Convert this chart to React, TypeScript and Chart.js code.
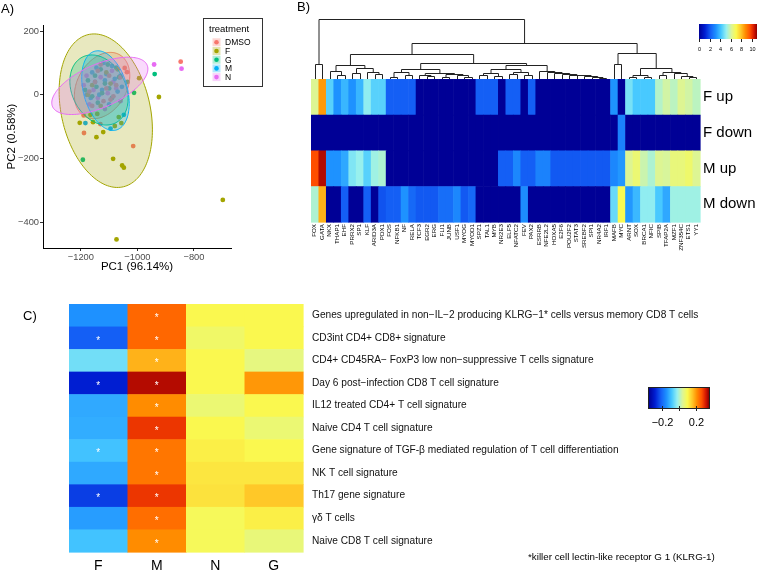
import React, { useEffect, useRef } from "react";
import { Chart, registerables } from "chart.js";
Chart.register(...registerables);

const SANS = '"Liberation Sans", Arial, Helvetica, sans-serif';

// ---------------- Panel A: PCA scatter ----------------
const groupNames = ["DMSO", "F", "G", "M", "N"];
const groupColors = ["#F8766D", "#A3A500", "#00BF7D", "#00B0F6", "#E76BF3"];
const dmsoX = [-1190, -1189, -1131, -1037, -1045, -1015, -847, -1150, -1100, -1170, -1120, -1075, -1140, -1085, -1160, -1110, -1060, -1130, -1095];
const dmsoY = [-65, -120, -92, 71, 84, -161, 104, 40, 60, 10, -20, 30, 75, -5, -35, 20, 55, 95, -15];
const fX = [-994, -924, -698, -1074, -1086, -1054, -1048, -1057, -1066, -1080, -1121, -1157, -1142, -1166, -1204, -1145, -1110, -1160, -1095, -1130, -1175, -1070];
const fY = [52, -7, -330, -454, -201, -222, -229, -89, -70, -98, -117, -86, -60, -63, -88, -133, 70, 30, 35, -35, 0, 80];
const gX = [-939, -1012, -1193, -1035, -1130, -1150, -1100, -1175, -1090, -1125, -1140, -1105, -1065, -1160, -1185, -1115, -1075, -1145];
const gY = [65, 6, -204, 40, 80, 60, 20, 45, -10, 5, -25, 95, 55, -5, 15, 35, 85, 25];
const mX = [-1048, -1095, -1184, -1160, -1115, -1080, -1135, -1100, -1165, -1070, -1120, -1145, -1055, -1110, -1090, -1150, -1125, -1180, -1060];
const mY = [-63, -106, -89, 70, 45, 50, 0, -30, -10, 10, 100, 85, 25, 65, 90, 40, 15, 0, 60];
const nX = [-941, -844, -1180, -1090, -1155, -1060, -1115, -1190, -1085, -1130, -1170, -1105, -1140, -1075];
const nY = [95, 82, 60, 75, 15, -20, -45, 30, 40, 55, -30, 5, -10, 20];
const groupXs = [dmsoX, fX, gX, mX, nX];
const groupYs = [dmsoY, fY, gY, mY, nY];
// 95% ellipse summaries per group: centre, half-ranges, correlation
const ellipseCx = [-1125, -1112, -1136, -1113, -1133];
const ellipseCy = [29, -50, 15, 13, 28];
const ellipseA = [98, 165, 103, 84, 170];
const ellipseB = [104, 241, 110, 125, 90];
const ellipseR = [0.3, -0.25, -0.25, -0.32, 0.59];
const xTicksA = [-1200, -1000, -800];
const yTicksA = [-400, -200, 0, 200];

// ---------------- Panel B: TF heatmap ----------------
const tfNames = ["FOX","GATA","NKX","THAP1","EHF","PRRX2","SP1","KLF","ARID3A","PDX1","FOS","NFKB1","NF","RELA","TCF3","EGR2","ERG","FLI1","JUNB","USF1","MYOG","MYOD1","SPZ1","TAL1","MYB","NR2E3","ELF5","NFATC2","FEV","PAX2","ESRRB","NFE2L2","HOXA5","E2F6","POU2F2","STAT3","SREBF2","SPI1","NR4A2","IRF1","MAFB","MYC","ARNT","SOX","BRCA1","NFIC","SPIB","TFAP2A","MZF1","ZNF354C","ETS1","YY1"];
const bRows = ["F up", "F down", "M up", "M down"];
const fUp = [6.2, 8.6, 4.4, 3.2, 3.85, 3.2, 3.85, 5.1, 4.4, 4.4, 2.2, 2.2, 2.2, 2.2, 0, 0, 0, 0, 0, 0, 0, 0, 2.2, 2.2, 2.2, 0, 2.2, 2.2, 0, 2.2, 0, 0, 0, 0, 0, 0, 0, 0, 0, 0, 3.2, 0, 4.8, 4.2, 4.2, 4.2, 5.6, 6.0, 5.7, 6.2, 6.0, 5.7];
const fDown = [0, 0, 0, 0, 0, 0, 0, 0, 0, 0, 0, 0, 0, 0, 0, 0, 0, 0, 0, 0, 0, 0, 0, 0, 0, 0, 0, 0, 0, 0, 0, 0, 0, 0, 0, 0, 0, 0, 0, 0, 0, 2.9, 0, 0, 0, 0, 0, 0, 0, 0, 0, 0];
const mUp = [9.7, 10.7, 3.2, 3.2, 3.6, 4.9, 5.2, 4.4, 5.3, 5.5, 0, 0, 0, 0, 0, 0, 0, 0, 0, 0, 0, 0, 0, 0, 0, 2.2, 2.2, 3.0, 2.2, 2.2, 2.9, 2.9, 2.1, 2.1, 2.1, 2.1, 2.1, 2.1, 2.1, 2.1, 3.0, 3.3, 6.2, 6.6, 5.9, 5.5, 6.2, 6.1, 6.5, 6.5, 6.7, 6.2];
const mDown = [5.5, 8.25, 0, 0, 2.2, 0, 0, 2.2, 0, 2.0, 2.2, 2.2, 3.2, 2.4, 2.1, 2.1, 2.1, 2.5, 2.5, 3.0, 2.1, 2.4, 0, 0, 0, 0, 0, 0, 3.1, 0, 0, 0, 0, 0, 0, 0, 0, 0, 0, 0, 4.6, 7.0, 3.3, 3.9, 5.1, 5.1, 4.2, 3.6, 5.3, 5.3, 5.3, 5.3];
const bMax = 11;
const bScaleTicks = [0, 2, 4, 6, 8, 10];
// column dendrogram: [height, left, right], leaves are column indices
const dendrogram: any = [1.0,
  [0.25, 0, 1],
  [0.6,
    [0.417,
      [0.233, [0.13, 2, [0.07, 3, 4]], [0.18, [0.1, 5, 6], [0.12, 7, [0.08, 8, 9]]]],
      [0.275,
        [0.167,
          [0.12, [0.04, 10, 11], [0.06, 12, 13]],
          [0.1, [0.07, 14, [0.05, 15, 16]], [0.08, [0.04, 17, 18], [0.06, 19, [0.03, 20, 21]]]]],
        [0.233,
          [0.16, [0.1, [0.06, 22, 23], [0.05, 24, 25]], [0.12, [0.08, 26, 27], [0.07, 28, 29]]],
          [0.14, 30, [0.12, 31, [0.1, 32, [0.085, 33, [0.07, 34, [0.06, 35, [0.045, 36, [0.035, 37, [0.02, 38, 39]]]]]]]]]]]],
    [0.44,
      [0.245, 40, 41],
      [0.18, [0.06, [0.04, 42, 43], [0.04, 44, 45]], [0.12, [0.07, 46, 47], [0.1, 48, [0.05, 49, [0.03, 50, 51]]]]]]]];

// ---------------- Panel C: signature heatmap ----------------
const cCols = ["F", "M", "N", "G"];
const cRows = [
  "Genes upregulated in non\u2212IL\u22122 producing KLRG\u22121* cells versus memory CD8 T cells",
  "CD3int CD4+ CD8+ signature",
  "CD4+ CD45RA\u2212 FoxP3 low non\u2212suppressive T cells signature",
  "Day 6 post\u2212infection CD8 T cell signature",
  "IL12 treated CD4+ T cell signature",
  "Naive CD4 T cell signature",
  "Gene signature of TGF-\u03b2 mediated regulation of T cell differentiation",
  "NK T cell signature",
  "Th17 gene signature",
  "\u03b3\u03b4 T cells",
  "Naive CD8 T cell signature",
];
const cF = [-0.147, -0.21, -0.049, -0.28, -0.119, -0.115, -0.091, -0.12, -0.245, -0.133, -0.09];
const cM = [0.245, 0.245, 0.175, 0.33, 0.21, 0.287, 0.231, 0.231, 0.287, 0.238, 0.21];
const cN = [0.1, 0.08, 0.1, 0.1, 0.07, 0.1, 0.11, 0.12, 0.125, 0.09, 0.09];
const cG = [0.1, 0.1, 0.06, 0.2, 0.1, 0.07, 0.1, 0.12, 0.154, 0.11, 0.065];
const cStarF = [false, true, false, true, false, false, true, false, true, false, false];
const cStarM = [true, true, true, true, true, true, true, true, true, true, true];
const cMin = -0.35, cMax = 0.35;
const cScaleTicks = [-0.2, 0, 0.2];
const cScaleTickLabels = ["\u22120.2", "", "0.2"];
const footnote = "*killer cell lectin-like receptor G 1 (KLRG-1)";

// ---------------- helpers ----------------
const cmapStops = [
  [0.0, 0, 0, 150], [0.1, 0, 30, 210], [0.2, 20, 95, 245], [0.29, 30, 145, 255],
  [0.38, 70, 200, 255], [0.47, 150, 240, 240], [0.56, 220, 245, 150], [0.64, 250, 250, 80],
  [0.72, 255, 200, 40], [0.8, 255, 140, 0], [0.88, 255, 80, 0], [0.95, 210, 20, 0], [1.0, 140, 0, 0],
];
function cmap(t: number) {
  t = Math.max(0, Math.min(1, t));
  for (let i = 1; i < cmapStops.length; i++) {
    const a = cmapStops[i - 1], b = cmapStops[i];
    if (t <= b[0]) {
      const f = (t - a[0]) / (b[0] - a[0]);
      const c = [1, 2, 3].map((k) => Math.round(a[k] + (b[k] - a[k]) * f));
      return `rgb(${c[0]},${c[1]},${c[2]})`;
    }
  }
  return "rgb(140,0,0)";
}
function hexA(hex: string, a: number) {
  const n = parseInt(hex.slice(1), 16);
  return `rgba(${(n >> 16) & 255},${(n >> 8) & 255},${n & 255},${a})`;
}
function textWidth(font: string, text: string) {
  const ctx = document.createElement("canvas").getContext("2d")!;
  ctx.font = font;
  return ctx.measureText(text).width;
}
function pickNarrowFamily() {
  const probe = "abcdefghijklmnopqrstuvwxyz ABCDEFG";
  const a = textWidth('20px "Liberation Sans Narrow", monospace', probe);
  const b = textWidth("20px monospace", probe);
  return Math.abs(a - b) > 1 ? '"Liberation Sans Narrow", "Liberation Sans", Arial, sans-serif' : SANS;
}
function panelLabel(id: string, text: string, x: number, y: number) {
  return {
    id,
    afterDraw(chart: any) {
      const ctx = chart.ctx;
      ctx.save();
      ctx.font = `13px ${SANS}`;
      ctx.fillStyle = "#000";
      ctx.textAlign = "left";
      ctx.textBaseline = "middle";
      ctx.fillText(text, x, y);
      ctx.restore();
    },
  };
}

// ---------------- Panel A ----------------
function makeA(canvas: HTMLCanvasElement) {
  const ellipsePlugin = {
    id: "ellipses",
    afterDatasetsDraw(chart: any) {
      const { ctx } = chart;
      const xs = chart.scales.x, ys = chart.scales.y;
      ctx.save();
      groupNames.forEach((_, g) => {
        const r = ellipseR[g], s = Math.sqrt(1 - r * r);
        ctx.beginPath();
        for (let k = 0; k <= 160; k++) {
          const t = (k / 160) * Math.PI * 2;
          const px = xs.getPixelForValue(ellipseCx[g] + ellipseA[g] * Math.cos(t));
          const py = ys.getPixelForValue(ellipseCy[g] + ellipseB[g] * (r * Math.cos(t) + s * Math.sin(t)));
          if (k === 0) ctx.moveTo(px, py); else ctx.lineTo(px, py);
        }
        ctx.closePath();
        ctx.fillStyle = hexA(groupColors[g], 0.25);
        ctx.fill();
        ctx.strokeStyle = groupColors[g];
        ctx.lineWidth = 1;
        ctx.stroke();
      });
      ctx.restore();
    },
  };
  const legendPlugin = {
    id: "legendA",
    afterDraw(chart: any) {
      const ctx = chart.ctx;
      ctx.save();
      ctx.fillStyle = "#fff";
      ctx.fillRect(203.5, 18.5, 59, 68);
      ctx.strokeStyle = "#333";
      ctx.lineWidth = 1;
      ctx.strokeRect(203.5, 18.5, 59, 68);
      ctx.fillStyle = "#000";
      ctx.textBaseline = "middle";
      ctx.textAlign = "left";
      ctx.font = `9.5px ${SANS}`;
      ctx.fillText("treatment", 209, 29);
      ctx.font = `8.5px ${SANS}`;
      groupNames.forEach((name, g) => {
        const cy = 42.3 + g * 8.7;
        ctx.fillStyle = hexA(groupColors[g], 0.3);
        ctx.fillRect(212.5, cy - 4, 8, 8);
        ctx.fillStyle = groupColors[g];
        ctx.beginPath();
        ctx.arc(216.5, cy, 2.3, 0, Math.PI * 2);
        ctx.fill();
        ctx.fillStyle = "#000";
        ctx.fillText(name, 225, cy + 0.5);
      });
      ctx.restore();
    },
  };
  return new Chart(canvas, {
    type: "scatter",
    data: {
      datasets: groupNames.map((name, g) => ({
        label: name,
        data: groupXs[g].map((x, i) => ({ x, y: groupYs[g][i] })),
        backgroundColor: groupColors[g],
        borderWidth: 0,
        pointRadius: 2.4,
      })),
    },
    options: {
      animation: false,
      responsive: false,
      layout: { padding: { left: 0, right: 39, top: 25, bottom: 0 } },
      plugins: { legend: { display: false }, tooltip: { enabled: false } },
      scales: {
        x: {
          type: "linear",
          min: -1334,
          max: -669,
          afterBuildTicks: (s: any) => { s.ticks = xTicksA.map((v) => ({ value: v })); },
          ticks: { color: "#4D4D4D", font: { family: SANS, size: 9.3 }, padding: 1, callback: (v: any) => String(v).replace("-", "\u2212") },
          grid: { drawOnChartArea: false, drawTicks: true, tickLength: 3, color: "#333" },
          border: { display: true, color: "#000", width: 1 },
          title: { display: true, text: "PC1 (96.14%)", color: "#000", font: { family: SANS, size: 11.5 }, padding: { top: 2, bottom: 6 } },
          afterFit: (s: any) => { s.height = 32; },
        },
        y: {
          type: "linear",
          min: -481,
          max: 219,
          afterBuildTicks: (s: any) => { s.ticks = yTicksA.map((v) => ({ value: v })); },
          ticks: { color: "#4D4D4D", font: { family: SANS, size: 9.3 }, padding: 1, callback: (v: any) => String(v).replace("-", "\u2212") },
          grid: { drawOnChartArea: false, drawTicks: true, tickLength: 3, color: "#333" },
          border: { display: true, color: "#000", width: 1 },
          title: { display: true, text: "PC2 (0.58%)", color: "#000", font: { family: SANS, size: 11.5 }, padding: { top: 5, bottom: 2 } },
          afterFit: (s: any) => { s.width = 43; },
        },
      },
    },
    plugins: [ellipsePlugin, legendPlugin, panelLabel("labA", "A)", 1, 9)],
  } as any);
}

// ---------------- Panel B ----------------
function makeB(canvas: HTMLCanvasElement) {
  const matrix = [fUp, fDown, mUp, mDown];
  const heatPlugin = {
    id: "heatB",
    beforeDatasetsDraw(chart: any) {
      const { ctx } = chart;
      const xs = chart.scales.x, ys = chart.scales.y;
      const w = xs.width / tfNames.length, h = ys.height / bRows.length;
      ctx.save();
      matrix.forEach((row, r) => {
        row.forEach((v, c) => {
          ctx.fillStyle = cmap(v / bMax);
          ctx.fillRect(xs.getPixelForValue(c) - w / 2, ys.getPixelForValue(r) - h / 2, w + 0.6, h + 0.6);
        });
      });
      ctx.restore();
    },
  };
  const dendroPlugin = {
    id: "dendroB",
    afterDraw(chart: any) {
      const { ctx, chartArea } = chart;
      const xs = chart.scales.x;
      const base = chartArea.top;
      const span = 60;
      const hy = (h: number) => Math.round(base - h * span) + 0.5;
      ctx.save();
      ctx.strokeStyle = "#222";
      ctx.lineWidth = 1;
      ctx.beginPath();
      const walk = (node: any): { x: number; h: number } => {
        if (typeof node === "number") return { x: Math.round(xs.getPixelForValue(node)) + 0.5, h: 0 };
        const [h, l, r] = node;
        const L = walk(l), R = walk(r);
        ctx.moveTo(L.x, L.h === 0 ? base : hy(L.h));
        ctx.lineTo(L.x, hy(h));
        ctx.lineTo(R.x, hy(h));
        ctx.lineTo(R.x, R.h === 0 ? base : hy(R.h));
        return { x: (L.x + R.x) / 2, h };
      };
      walk(dendrogram);
      ctx.stroke();
      ctx.restore();
    },
  };
  const colorbarPlugin = {
    id: "cbarB",
    afterDraw(chart: any) {
      const ctx = chart.ctx;
      const x0 = 449, x1 = 507, y0 = 24, y1 = 39;
      ctx.save();
      for (let px = x0; px < x1; px++) {
        ctx.fillStyle = cmap((px + 0.5 - x0) / (x1 - x0));
        ctx.fillRect(px, y0, 1, y1 - y0);
      }
      ctx.strokeStyle = "#222";
      ctx.fillStyle = "#000";
      ctx.font = `5.5px ${SANS}`;
      ctx.textAlign = "center";
      ctx.textBaseline = "middle";
      bScaleTicks.forEach((v) => {
        const px = Math.round(x0 + (v / bMax) * (x1 - x0)) + 0.5;
        ctx.beginPath();
        ctx.moveTo(px, y1);
        ctx.lineTo(px, y1 + 3);
        ctx.stroke();
        ctx.fillText(String(v), px, y1 + 10.5);
      });
      ctx.restore();
    },
  };
  return new Chart(canvas, {
    type: "bar",
    data: { labels: tfNames, datasets: [] },
    options: {
      animation: false,
      responsive: false,
      layout: { padding: { left: 61, top: 79, right: 0, bottom: 0 } },
      plugins: { legend: { display: false }, tooltip: { enabled: false } },
      scales: {
        x: {
          type: "category",
          offset: true,
          grid: { display: false, drawTicks: false },
          border: { display: false },
          ticks: { autoSkip: false, minRotation: 90, maxRotation: 90, padding: 2, color: "#000", font: { family: SANS, size: 6.2 } },
          afterFit: (s: any) => { s.height = 40; },
        },
        y: {
          type: "category",
          labels: bRows,
          position: "right",
          offset: true,
          grid: { display: false, drawTicks: false },
          border: { display: false },
          ticks: { autoSkip: false, padding: 3, color: "#000", font: { family: SANS, size: 15 } },
          afterFit: (s: any) => { s.width = 61; },
        },
      },
    },
    plugins: [heatPlugin, dendroPlugin, colorbarPlugin, panelLabel("labB", "B)", 47, 7)],
  } as any);
}

// ---------------- Panel C ----------------
function makeC(canvas: HTMLCanvasElement) {
  const fam = pickNarrowFamily();
  const labelSize = (12 * 387) / textWidth(`12px ${fam}`, cRows[0]);
  const footSize = (12 * 187) / textWidth(`12px ${fam}`, footnote);
  const matrix = [cF, cM, cN, cG];
  const stars = [cStarF, cStarM];
  const heatPlugin = {
    id: "heatC",
    beforeDatasetsDraw(chart: any) {
      const { ctx } = chart;
      const xs = chart.scales.x, ys = chart.scales.y;
      const w = xs.width / cCols.length, h = ys.height / cRows.length;
      ctx.save();
      matrix.forEach((col, c) => {
        col.forEach((v, r) => {
          ctx.fillStyle = cmap((v - cMin) / (cMax - cMin));
          ctx.fillRect(xs.getPixelForValue(c) - w / 2, ys.getPixelForValue(r) - h / 2, w + 0.6, h + 0.6);
        });
      });
      ctx.fillStyle = "#fff";
      ctx.font = `10px ${SANS}`;
      ctx.textAlign = "center";
      ctx.textBaseline = "alphabetic";
      stars.forEach((col, c) => {
        col.forEach((s, r) => {
          if (s) ctx.fillText("*", xs.getPixelForValue(c), ys.getPixelForValue(r) + 5.8);
        });
      });
      ctx.restore();
    },
  };
  const extrasPlugin = {
    id: "extrasC",
    afterDraw(chart: any) {
      const ctx = chart.ctx;
      const x0 = 649, x1 = 709, y0 = 120, y1 = 140;
      ctx.save();
      for (let px = x0; px < x1; px++) {
        ctx.fillStyle = cmap((px + 0.5 - x0) / (x1 - x0));
        ctx.fillRect(px, y0, 1, y1 - y0);
      }
      ctx.strokeStyle = "#222";
      ctx.lineWidth = 1;
      ctx.strokeRect(x0 - 0.5, y0 - 0.5, x1 - x0 + 1, y1 - y0 + 1);
      ctx.fillStyle = "#000";
      ctx.font = `11px ${SANS}`;
      ctx.textAlign = "center";
      ctx.textBaseline = "middle";
      cScaleTicks.forEach((v, i) => {
        const px = Math.round(x0 + ((v - cMin) / (cMax - cMin)) * (x1 - x0)) + 0.5;
        ctx.beginPath();
        ctx.moveTo(px, y1 - 2);
        ctx.lineTo(px, y1 + 3);
        ctx.stroke();
        if (cScaleTickLabels[i]) ctx.fillText(cScaleTickLabels[i], px, y1 + 15);
      });
      ctx.textAlign = "left";
      ctx.font = `${footSize}px ${fam}`;
      ctx.fillText(footnote, 528, 289);
      ctx.restore();
    },
  };
  return new Chart(canvas, {
    type: "bar",
    data: { labels: cCols, datasets: [] },
    options: {
      animation: false,
      responsive: false,
      layout: { padding: { left: 69, top: 36, right: 0, bottom: 0 } },
      plugins: { legend: { display: false }, tooltip: { enabled: false } },
      scales: {
        x: {
          type: "category",
          offset: true,
          grid: { display: false, drawTicks: false },
          border: { display: false },
          ticks: { padding: 6, color: "#000", font: { family: SANS, size: 14 } },
          afterFit: (s: any) => { s.height = 21; },
        },
        y: {
          type: "category",
          labels: cRows,
          position: "right",
          offset: true,
          grid: { display: false, drawTicks: false },
          border: { display: false },
          ticks: { autoSkip: false, padding: 9, color: "#111", font: { family: fam, size: labelSize } },
          afterFit: (s: any) => { s.width = 458; },
        },
      },
    },
    plugins: [heatPlugin, extrasPlugin, panelLabel("labC", "C)", 23, 48)],
  } as any);
}

export default function App() {
  const refA = useRef<HTMLCanvasElement>(null);
  const refB = useRef<HTMLCanvasElement>(null);
  const refC = useRef<HTMLCanvasElement>(null);
  useEffect(() => {
    const charts = [makeA(refA.current!), makeB(refB.current!), makeC(refC.current!)];
    return () => charts.forEach((c) => c.destroy());
  }, []);
  return (
    <div style={{ position: "fixed", left: 0, top: 0, width: 761, height: 573, background: "#fff", overflow: "hidden" }}>
      <canvas ref={refA} width={270} height={280} style={{ position: "absolute", left: 0, top: 0, width: 270, height: 280 }} />
      <canvas ref={refB} width={511} height={262} style={{ position: "absolute", left: 250, top: 0, width: 511, height: 262 }} />
      <canvas ref={refC} width={761} height={305} style={{ position: "absolute", left: 0, top: 268, width: 761, height: 305 }} />
    </div>
  );
}
